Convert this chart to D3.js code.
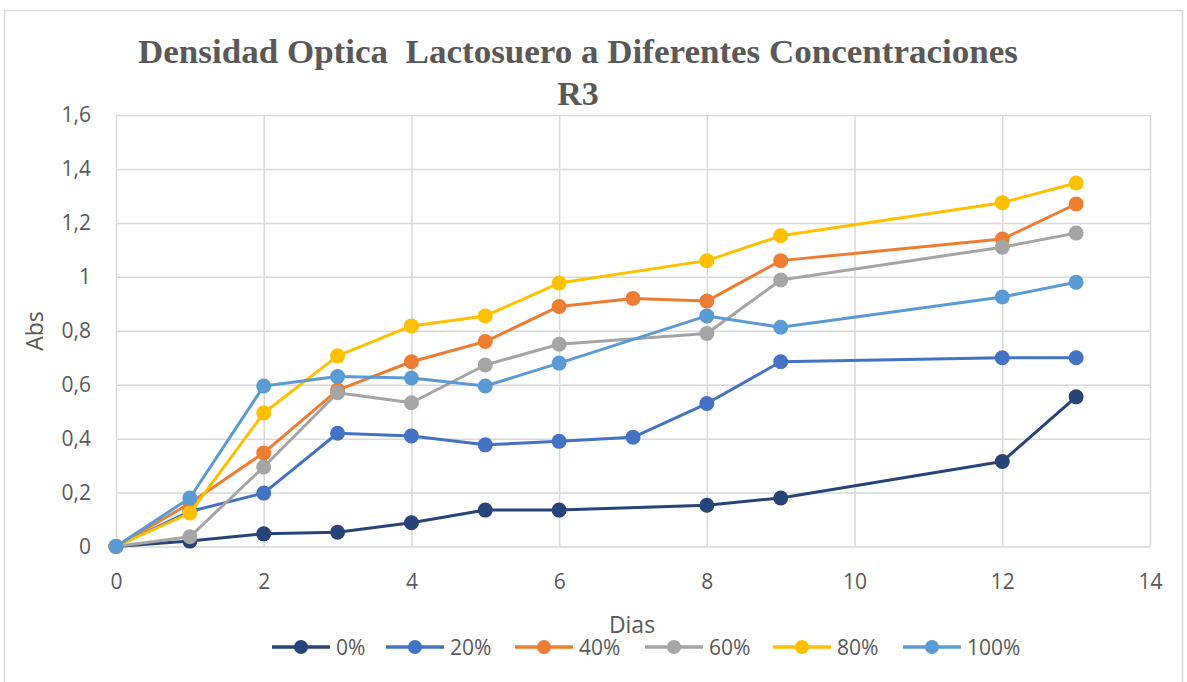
<!DOCTYPE html>
<html>
<head>
<meta charset="utf-8">
<script src="https://cdn.jsdelivr.net/npm/d3@7"></script>
<style>
  html, body { margin: 0; padding: 0; background: #fff; }
  svg { display: block; }
</style>
</head>
<body>
<svg id="chart" width="1187" height="682"></svg>
<script>
// ---- data ----
const days = [0, 1, 2, 3, 4, 5, 6, 7, 8, 9, 12, 13];
const seriesNames = ["0%", "20%", "40%", "60%", "80%", "100%"];
const seriesColors = ["#264478", "#4472C4", "#ED7D31", "#A5A5A5", "#FFC000", "#5B9BD5"];
const s0   = [0, 0.02, 0.047, 0.053, 0.088, 0.135, 0.135, null, 0.153, 0.18, 0.315, 0.555];
const s20  = [0, 0.13, 0.198, 0.42, 0.41, 0.377, 0.39, 0.405, 0.53, 0.685, 0.70, 0.70];
const s40  = [0, 0.16, 0.347, 0.58, 0.685, 0.76, 0.89, 0.92, 0.91, 1.06, 1.14, 1.27];
const s60  = [0, 0.036, 0.295, 0.57, 0.533, 0.673, 0.75, null, 0.79, 0.988, 1.11, 1.162];
const s80  = [0, 0.124, 0.495, 0.707, 0.818, 0.855, 0.977, null, 1.06, 1.152, 1.275, 1.348];
const s100 = [0, 0.18, 0.595, 0.63, 0.625, 0.595, 0.68, null, 0.855, 0.813, 0.925, 0.98];
const seriesValues = [s0, s20, s40, s60, s80, s100];
const xTicks = [0, 2, 4, 6, 8, 10, 12, 14];
const xTickLabels = ["0", "2", "4", "6", "8", "10", "12", "14"];
const yTicks = [0, 0.2, 0.4, 0.6, 0.8, 1, 1.2, 1.4, 1.6];
const yTickLabels = ["0", "0,2", "0,4", "0,6", "0,8", "1", "1,2", "1,4", "1,6"];
const titleLines = ["Densidad Optica  Lactosuero a Diferentes Concentraciones", "R3"];
const xTitle = "Dias";
const yTitle = "Abs";

// ---- layout ----
const svg = d3.select("#chart");
const pLeft = 116, pRight = 1150, pTop = 115, pBottom = 546.5;
const x = d3.scaleLinear().domain([0, 14]).range([pLeft, pRight]);
const y = d3.scaleLinear().domain([0, 1.6]).range([pBottom, pTop]);
const textFont = "'Open Sans', 'Liberation Sans', sans-serif";
const textColor = "#595959";

// outer border
svg.append("rect").attr("x", 4.5).attr("y", 10.5).attr("width", 1178).attr("height", 690)
  .attr("fill", "#fff").attr("stroke", "#d9d9d9").attr("stroke-width", 1.5);

// title
const title = svg.append("g");
title.append("text").attr("x", 578).attr("y", 63).attr("text-anchor", "middle")
  .attr("font-family", "'Liberation Serif', 'DejaVu Serif', serif").attr("font-weight", "bold")
  .attr("font-size", 34).attr("fill", textColor).style("white-space", "pre")
  .attr("textLength", 880).attr("lengthAdjust", "spacingAndGlyphs")
  .text(titleLines[0]);
title.append("text").attr("x", 578).attr("y", 105).attr("text-anchor", "middle")
  .attr("font-family", "'Liberation Serif', 'DejaVu Serif', serif").attr("font-weight", "bold")
  .attr("font-size", 34).attr("fill", textColor)
  .text(titleLines[1]);

// gridlines via axes
const gridY = d3.axisLeft(y).tickValues(yTicks).tickSize(-(pRight - pLeft)).tickFormat("");
svg.append("g").attr("transform", `translate(${pLeft},0)`).call(gridY)
  .call(g => g.select(".domain").remove())
  .call(g => g.selectAll("line").attr("stroke", "#d9d9d9").attr("stroke-width", 1.5));
const gridX = d3.axisBottom(x).tickValues(xTicks).tickSize(-(pBottom - pTop)).tickFormat("");
svg.append("g").attr("transform", `translate(0,${pBottom})`).call(gridX)
  .call(g => g.select(".domain").remove())
  .call(g => g.selectAll("line").attr("stroke", "#d9d9d9").attr("stroke-width", 1.5));

// tick labels via axes
const yAxis = d3.axisLeft(y).tickValues(yTicks).tickSize(0).tickPadding(25)
  .tickFormat((d, i) => yTickLabels[i]);
svg.append("g").attr("transform", `translate(${pLeft},0)`).call(yAxis)
  .call(g => g.select(".domain").remove())
  .call(g => g.selectAll("text").attr("font-family", textFont).attr("font-size", 21).attr("fill", textColor));
const xAxis = d3.axisBottom(x).tickValues(xTicks).tickSize(0).tickPadding(24)
  .tickFormat((d, i) => xTickLabels[i]);
svg.append("g").attr("transform", `translate(0,${pBottom})`).call(xAxis)
  .call(g => g.select(".domain").remove())
  .call(g => g.selectAll("text").attr("font-family", textFont).attr("font-size", 21).attr("fill", textColor)
    .attr("dy", null).attr("y", 589 - pBottom));

// axis titles
svg.append("text").attr("x", 632).attr("y", 633).attr("text-anchor", "middle")
  .attr("font-family", textFont).attr("font-size", 23).attr("fill", textColor).text(xTitle);
svg.append("text").attr("transform", "translate(43,331) rotate(-90)").attr("text-anchor", "middle")
  .attr("font-family", textFont).attr("font-size", 23).attr("fill", textColor).text(yTitle);

// series
const line = d3.line().x(d => x(d.day)).y(d => y(d.v));
const series = seriesNames.map((name, i) => ({
  name, color: seriesColors[i],
  pts: days.map((d, j) => ({ day: d, v: seriesValues[i][j] })).filter(p => p.v !== null)
}));
const sg = svg.append("g").selectAll("g").data(series).join("g");
sg.append("path").attr("d", d => line(d.pts)).attr("fill", "none")
  .attr("stroke", d => d.color).attr("stroke-width", 3).attr("stroke-linejoin", "round");
sg.selectAll("circle").data(d => d.pts.map(p => ({ ...p, color: d.color }))).join("circle")
  .attr("cx", p => x(p.day)).attr("cy", p => y(p.v)).attr("r", 7.5).attr("fill", p => p.color);

// legend
const legendStarts = [272, 386, 515, 645, 773, 903];
const lg = svg.append("g").selectAll("g").data(series).join("g")
  .attr("transform", (d, i) => `translate(${legendStarts[i]},647)`);
lg.append("line").attr("x1", 0).attr("x2", 58).attr("y1", 0).attr("y2", 0)
  .attr("stroke", d => d.color).attr("stroke-width", 3.5);
lg.append("circle").attr("cx", 29).attr("cy", 0).attr("r", 7).attr("fill", d => d.color);
lg.append("text").attr("x", 64).attr("y", 7.5).attr("font-family", textFont).attr("font-size", 21)
  .attr("fill", textColor).text(d => d.name);
</script>
</body>
</html>
